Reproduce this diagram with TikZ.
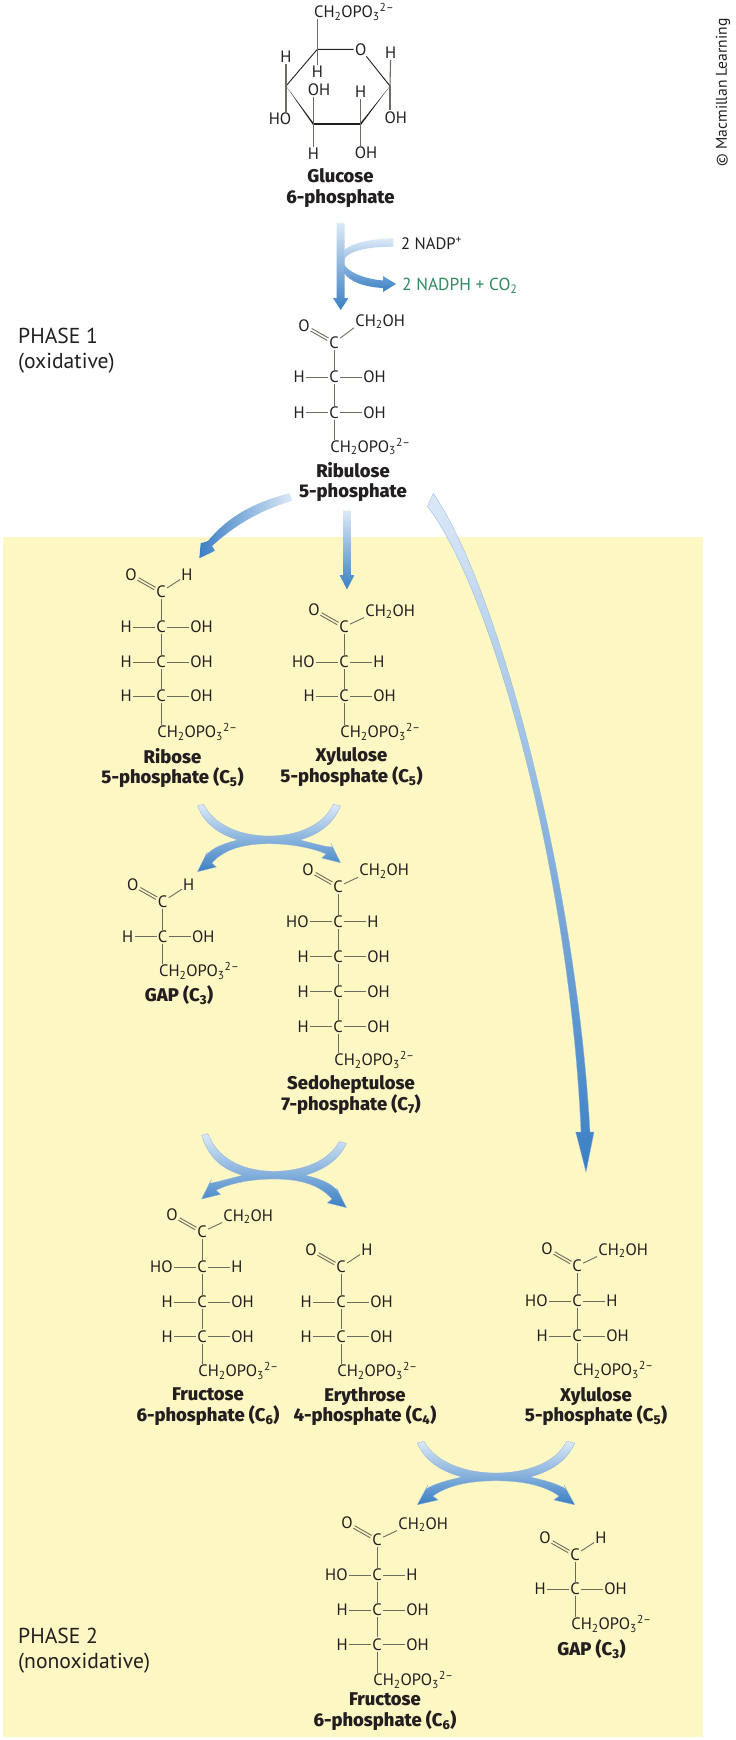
\documentclass[tikz,border=0pt]{standalone}
\usepackage{fontspec}
\setmainfont{PT Sans}
\newfontfamily\labelfont{Fira Sans ExtraBold}
\usetikzlibrary{calc}
\definecolor{panel}{HTML}{FDF7C3}
\definecolor{ink}{HTML}{231F20}
\definecolor{bondgrey}{HTML}{6E6C60}
\definecolor{arrowlight}{HTML}{DCE9F7}
\definecolor{arrowmid}{HTML}{8DB2DF}
\definecolor{arrowblue}{HTML}{3A7FC4}
\definecolor{nadphgreen}{HTML}{2E8B5F}
\newcommand{\phos}{CH\textsubscript{2}OPO\textsubscript{3}\textsuperscript{2--}}
\newcommand{\hoh}{CH\textsubscript{2}OH}
\newcommand{\fischerhead}[3]{%
  \node[atom] (#1) at (#2,#3) {C};
  \node[atom] (#1o) at ({#2-30},{#3-17}) {O};
  \draw[bond,transform canvas={xshift=.7pt,yshift=1.2pt}] (#1) -- (#1o);
  \draw[bond,transform canvas={xshift=-.7pt,yshift=-1.2pt}] (#1) -- (#1o);
}
\newcommand{\ketohead}[4]{%
  \fischerhead{#1}{#2}{#3}
  \node[atom,anchor=west] (#1g) at ({#2+20},{#3-#4}) {\hoh};
  \draw[bond] (#1) -- (#1g.south west);
}
\newcommand{\aldohead}[3]{%
  \fischerhead{#1}{#2}{#3}
  \node[atom] (#1g) at ({#2+26},{#3-17}) {H};
  \draw[bond] (#1) -- (#1g);
}
\newcommand{\fischerrow}[6]{%
  \node[atom] (#1) at (#3,#4) {C};
  \node[atom,anchor=east] (#1l) at ({#3-28},#4) {#5};
  \node[atom,anchor=west] (#1r) at ({#3+28},#4) {#6};
  \draw[bond] (#2) -- (#1);
  \draw[bond] (#1l) -- (#1);
  \draw[bond] (#1) -- (#1r);
}
\newcommand{\fischertail}[4]{%
  \node[atom,anchor=west] (#1) at ({#3-5},#4) {\phos};
  \draw[bond] (#2) -- (#2 |- #1.north);
}
\newcommand{\swaparrow}[7]{%
  \begin{scope}[shift={(#1,#2)},xscale=#3]
    \shadedraw[draw=arrowmid,line width=.3pt,top color=arrowlight,middle color=arrowmid,bottom color=arrowblue]
      (-72,{-35.7+#4}) .. controls (-60,-14) and (-30,-4) .. (0,-4)
      .. controls (30,-4) and (60,-14) .. (70.7,{-35.7+#5})
      -- (78.7,{-34+#5}) .. controls (70,-14) and (52,-5) .. (34,0)
      .. controls (48,3) and (62,7) .. (70,{12+#7})
      -- (68,{8+#7}) -- (78.7,{27.7+#7}) -- (58,{23+#7}) -- (63,{19+#7})
      .. controls (48,8) and (25,3.7) .. (0,3.7)
      .. controls (-25,3.7) and (-48,8) .. (-63,{19+#6})
      -- (-58,{23+#6}) -- (-78.7,{27.7+#6}) -- (-68,{8+#6}) -- (-70,{12+#6})
      .. controls (-62,7) and (-48,3) .. (-34,0)
      .. controls (-52,-5) and (-70,-14) .. (-78.7,{-34+#4}) -- cycle;
  \end{scope}
}
\begin{document}
\begin{tikzpicture}[
  x=1pt, y=-1pt,
  atom/.style={inner sep=1.2pt, text=ink, text height=11.4pt, text depth=0pt,
               font=\fontsize{16.5}{19}\selectfont},
  bond/.style={draw=bondgrey, line width=.9pt},
  ringbond/.style={draw=ink, line width=.9pt},
  title/.style={align=center, text=ink, inner sep=0pt,
                font=\labelfont\fontsize{18.4}{20.8}\selectfont},
  phase/.style={anchor=west, align=left, text=ink, inner sep=0pt,
                font=\fontsize{21.6}{24.6}\selectfont}
]
\useasboundingbox (0,0) rectangle (736,1740);
\fill[panel] (3.3,537.3) rectangle (703,1737);

\node[rotate=90, text=ink, inner sep=0pt, font=\fontsize{15.6}{18}\selectfont] (credit) at (723,92.5) {\textcopyright\ Macmillan Learning};
\node[phase] (phaseone) at (18,350.5) {PHASE 1\\(oxidative)};
\node[phase] (phasetwo) at (18,1650.5) {PHASE 2\\(nonoxidative)};

\coordinate (g5) at (317.3,49.3);
\node[atom] (go) at (360.7,49.3) {O};
\coordinate (g1) at (390,86);
\coordinate (g2) at (360.7,124);
\coordinate (g3) at (313.3,124);
\coordinate (g4) at (286,86);
\node[atom,anchor=west] (gp) at (312.7,12) {\phos};
\node[atom] (g5h) at (317.3,72) {H};
\node[atom] (g4h) at (286,57) {H};
\node[atom] (g4o) at (280,119) {HO};
\node[atom] (g3o) at (319,90) {OH};
\node[atom] (g3h) at (313.3,154) {H};
\node[atom] (g2h) at (360.7,92) {H};
\node[atom] (g2o) at (366,153) {OH};
\node[atom] (g1h) at (390.7,53) {H};
\node[atom] (g1o) at (395.7,117.5) {OH};
\draw[ringbond] (g4) -- (g5) -- (go) -- (g1);
\fill[ink] (g4) -- ([yshift=1.3pt]g3) -- ([yshift=-1.3pt]g3) -- cycle;
\fill[ink] (g1) -- ([yshift=1.3pt]g2) -- ([yshift=-1.3pt]g2) -- cycle;
\draw[ringbond, line width=2.4pt] (g3) -- (g2);
\draw[bond, line width=1.1pt] (g5) -- (g5 |- gp.south);
\draw[bond, line width=1.1pt] (g5) -- (g5h);
\draw[bond, line width=1.1pt] (g4) -- (g4h);
\draw[bond, line width=1.1pt] (g4) -- (g4 |- g4o.north);
\draw[bond, line width=1.1pt] (g3) -- (g3 |- g3o.south);
\draw[bond, line width=1.1pt] (g3) -- (g3h);
\draw[bond, line width=1.1pt] (g2) -- (g2h);
\draw[bond, line width=1.1pt] (g2) -- (g2 |- g2o.north);
\draw[bond, line width=1.1pt] (g1) -- (g1h);
\draw[bond, line width=1.1pt] (g1) -- (g1 |- g1o.north);
\node[title] (glucose) at (340.5,188) {Glucose\\6-phosphate};

\shade[top color=arrowlight,bottom color=arrowblue]
  (336.7,223) -- (344.7,223) -- (344.7,298) -- (348.5,298) -- (340.7,310)
  -- (333,298) -- (336.7,298) -- cycle;
\shade[top color=arrowlight,bottom color=arrowblue]
  (393.3,246.7) .. controls (370,246.7) and (346,250) .. (343,262)
  .. controls (346,272) and (365,279) .. (383,280.5)
  -- (383,276) -- (396,284) -- (383,292) -- (383,288)
  .. controls (365,287) and (350,282) .. (344,273)
  -- (344,250) .. controls (352,243) and (372,238.5) .. (393.3,238.3) -- cycle;
\node[anchor=west, text=ink, inner sep=0pt, font=\fontsize{16.6}{19}\selectfont] (nadp) at (401,243) {2 NADP\textsuperscript{+}};
\node[anchor=west, text=nadphgreen, inner sep=0pt, font=\fontsize{17.4}{20}\selectfont] (nadph) at (402,285.5) {2 NADPH + CO\textsubscript{2}};

\ketohead{rua}{334}{342.7}{22}
\fischerrow{rub}{rua}{334}{377}{H}{OH}
\fischerrow{ruc}{rub}{334}{412.7}{H}{OH}
\fischertail{rup}{ruc}{334}{446.7}
\node[title] (ribulose) at (353,482) {Ribulose\\5-phosphate};

\shade[left color=arrowblue,right color=arrowlight]
  (289.7,493.3) .. controls (250,503) and (225,520) .. (208,541)
  -- (200.7,543.3) -- (199.3,558.3) -- (215,550.7) -- (212,546)
  .. controls (232,528) and (255,512) .. (292.3,500.7) -- cycle;
\shade[top color=arrowlight,bottom color=arrowblue]
  (343.2,510.7) -- (350.8,510.7) -- (350.8,575) -- (354.5,575) -- (347,589.3)
  -- (339.5,575) -- (343.2,575) -- cycle;
\shadedraw[draw=arrowmid,line width=.3pt,top color=arrowlight,middle color=arrowmid,bottom color=arrowblue]
  (433.3,493.3) .. controls (499,590) and (576,880) .. (590,1132)
  -- (594,1132) -- (586,1172) -- (575.7,1132) -- (581,1132)
  .. controls (570,880) and (495,595) .. (427.5,506.5) -- cycle;

\aldohead{rba}{161}{592}
\fischerrow{rbb}{rba}{161}{627}{H}{OH}
\fischerrow{rbc}{rbb}{161}{662}{H}{OH}
\fischerrow{rbd}{rbc}{161}{696}{H}{OH}
\fischertail{rbp}{rbd}{161}{732}
\node[title] (ribose) at (172.5,768) {Ribose\\5-phosphate (C\textsubscript{5})};

\ketohead{xua}{344}{627}{16.5}
\fischerrow{xub}{xua}{344}{662}{HO}{H}
\fischerrow{xuc}{xub}{344}{696}{H}{OH}
\fischertail{xup}{xuc}{344}{732}
\node[title] (xylulose) at (351.5,767) {Xylulose\\5-phosphate (C\textsubscript{5})};

\swaparrow{269}{840}{.908}{0}{0}{4}{-5}

\aldohead{gaa}{162.7}{901.7}
\fischerrow{gab}{gaa}{162.7}{936.7}{H}{OH}
\fischertail{gap}{gab}{162.7}{970.7}
\node[title] (gapa) at (179,995.5) {GAP (C\textsubscript{3})};

\ketohead{sea}{338}{886.7}{16.5}
\fischerrow{seb}{sea}{338}{921.7}{HO}{H}
\fischerrow{sec}{seb}{338}{956.7}{H}{OH}
\fischerrow{sed}{sec}{338}{991.7}{H}{OH}
\fischerrow{see}{sed}{338}{1026.7}{H}{OH}
\fischertail{sep}{see}{338}{1060}
\node[title] (sedoheptulose) at (351,1095) {Sedoheptulose\\7-phosphate (C\textsubscript{7})};

\swaparrow{274}{1175.3}{.92}{-6}{2}{-4}{4.6}

\ketohead{fra}{202}{1232}{16.5}
\fischerrow{frb}{fra}{202}{1267}{HO}{H}
\fischerrow{frc}{frb}{202}{1302}{H}{OH}
\fischerrow{frd}{frc}{202}{1336.5}{H}{OH}
\fischertail{frp}{frd}{202}{1371}
\node[title] (fructose) at (208,1406.5) {Fructose\\6-phosphate (C\textsubscript{6})};

\aldohead{era}{341}{1267}
\fischerrow{erb}{era}{341}{1302}{H}{OH}
\fischerrow{erc}{erb}{341}{1336.5}{H}{OH}
\fischertail{erp}{erc}{341}{1371}
\node[title] (erythrose) at (365,1406.5) {Erythrose\\4-phosphate (C\textsubscript{4})};

\ketohead{xva}{577}{1266}{16.5}
\fischerrow{xvb}{xva}{577}{1301}{HO}{H}
\fischerrow{xvc}{xvb}{577}{1336}{H}{OH}
\fischertail{xvp}{xvc}{577}{1370}
\node[title] (xylulosetwo) at (596,1406.5) {Xylulose\\5-phosphate (C\textsubscript{5})};

\swaparrow{496}{1477}{1}{0}{0}{0}{0}

\ketohead{fsa}{377}{1540}{16.5}
\fischerrow{fsb}{fsa}{377}{1575}{HO}{H}
\fischerrow{fsc}{fsb}{377}{1610}{H}{OH}
\fischerrow{fsd}{fsc}{377}{1644.5}{H}{OH}
\fischertail{fsp}{fsd}{377}{1680}
\node[title] (fructosetwo) at (385,1711.5) {Fructose\\6-phosphate (C\textsubscript{6})};

\aldohead{gba}{575}{1555}
\fischerrow{gbb}{gba}{575}{1589}{H}{OH}
\fischertail{gbp}{gbb}{575}{1624}
\node[title] (gapb) at (591.5,1649.5) {GAP (C\textsubscript{3})};
\end{tikzpicture}
\end{document}
